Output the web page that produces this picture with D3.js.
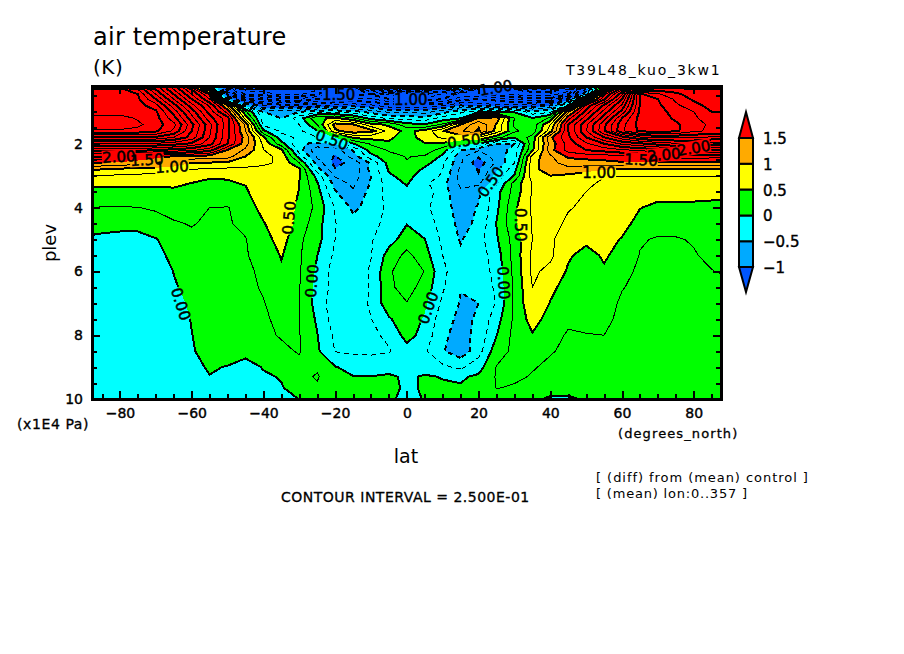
<!DOCTYPE html>
<html>
<head>
<meta charset="utf-8">
<script src="https://cdn.jsdelivr.net/npm/d3@7"></script>
<style>
  html, body { margin: 0; background: #fff; }
  svg { display: block; }
  text { font-family: "DejaVu Sans", sans-serif; fill: #000; }
  .axis path { display: none; }
  .axis line { stroke: #000; stroke-width: 2; shape-rendering: crispEdges; }
  .axis text { font-size: 14px; stroke: #000; stroke-width: .4; }
</style>
</head>
<body>
<script>
'use strict';

// grid: latitude columns, pressure rows (x1E4 Pa)
const lat = [-87.8, -85, -80, -75, -70, -65, -60, -55, -50, -45, -40, -35, -30, -25, -20, -15, -10, -5, 0,
  5, 10, 15, 20, 25, 30, 35, 40, 45, 50, 55, 60, 65, 70, 75, 80, 85, 87.6];
const plev = [0.19, 0.3, 0.45, 0.6, 0.8, 1, 1.2, 1.4, 1.6, 1.8, 2, 2.2, 2.4, 2.6, 2.8, 3, 3.25, 3.5,
  4, 4.5, 5, 5.5, 6, 6.5, 7, 7.5, 8, 8.5, 9, 9.3, 9.65, 10];

// air temperature difference (K), one row per plev
const airTemp = [
  [3.4,3.4,3.4,3.5,3.4, 2.6,1.6,0,-1,-1.5, -1.2,-1,-1,-.8,-.7, -.5,.3,.8,.6,.8, .3,-.3,-.6,-.9,-1, -1,-1,-1,-.5,.6, 1.5,3,3,3,3, 3,3],
  [4.7,4.7,4.6,4.25,3.5, 2.75,2,.8,-2,-2.8, -2.9,-3,-3,-2.8,-2.4, -2.2,-1.5,-1,-1.2,-1.4, -1.8,-.9,-1.9,-2.2,-2.5, -2.6,-2.6,-2.4,-1.2,1, 2.2,3.8,3.9,3.9,3.85, 3.8,3.8],
  [4.7,4.7,4.6,4.5,3.75, 3,2.25,1.5,-1.5,-2.6, -2.6,-2.8,-2.8,-2.5,-2.2, -2.1,-2,-2.3,-2.5,-2.6, -2.2,-1.9,-1.9,-2.1,-2.3, -2.4,-2.4,-2,-.7,1.7, 2.7,4.55,4.3,4.05,3.9, 3.8,3.8],
  [4.65,4.65,4.6,4.55,4, 3.25,2.5,1.75,-.6,-1.9, -2,-2.2,-2.2,-2,-1.8, -1.7,-1.7,-2,-2.2,-2.2, -2,-1.6,-1.5,-1.6,-1.8, -1.9,-1.9,-1.1,.8,1.95, 3,4.52,4.5,4.2,3.95, 3.8,3.8],
  [4.6,4.6,4.6,4.6,4.35, 3.6,2.85,2.2,1.2,-.6, -1.3,-1.4,-1.4,-1.3,-1.2, -1.1,-1.2,-1.4,-1.4,-1.4, -1.3,-1,-1.1,-1.2,-1.2, -1.2,-1,-.1,1.8,2.55, 3.3,4.52,4.55,4.3,4.1, 3.9,3.9],
  [4.65,4.65,4.65,4.65,4.55, 3.9,3.15,2.4,1.65,.3, -.5,-.55,-.5,-.3,-.3, -.4,-.6,-.8,-.8,-.85, -.6,-.3,-.05,.01,-.02, -.4,-.3,1.2,2.1,2.85, 3.6,4.55,4.6,4.4,4.25, 4,4],
  [4.85,4.85,4.85,4.72,4.6, 4.1,3.35,2.6,2.1,.65, -.4,-.5,-.12,.45,.55, .3,-.1,-.3,-.35,-.4, -.15,-.02,1.05,1.15,.25, .02,.3,1.65,2.4,3.15, 4,4.6,4.65,4.45,4.3, 4.1,4.1],
  [4.85,4.85,4.85,4.8,4.62, 4.33,3.58,2.83,2.08,1.2, -.3,-.3,-.25,.25,1.1, 1.02,.6,.45,.1,.02, .3,1,1.45,.98,.2, .1,.75,2,2.7,3.43, 4.17,4.6,4.65,4.55,4.35, 4.2,4.2],
  [4.72,4.72,4.72,4.68,4.55, 4.2,3.5,2.8,2.05,1.25, .05,-.3,-.3,-.02,.95, 1.15,1.1,.65,.42,.6, .98,1.2,1.55,.9,.3, .1,.9,2,2.73,3.47, 4.2,4.55,4.6,4.55,4.3, 4.2,4.2],
  [3.95,3.95,3.95,3.95,3.95, 3.75,3.4,2.75,2.05,1.4, .55,-.15,-.3,-.25,.02, .55,.6,.55,.38,.62, .8,.9,.75,.35,.02, .35,1.45,1.95,2.5,3, 3.4,3.7,3.8,3.8,3.8, 3.7,3.7],
  [3.2,3.2,3.2,3.2,3.2, 3.1,2.95,2.6,2,1.35, .7,.1,-.47,-.55,-.48, -.02,.28,.46,.46,.48, .45,.1,-.02,-.52,-.5, .4,1.35,1.85,2.2,2.5, 2.8,2.95,3.1,3.2,3.2, 3.1,3.1],
  [2.6,2.6,2.6,2.6,2.5, 2.4,2.3,2.1,1.48,1.2, .76,.55,-.38,-.95,-.9, -.48,.12,.27,.28,.4, .12,-.48,-.72,-.72,-.35, .45,1.4,1.85,2,2.1, 2.2,2.3,2.4,2.6,2.6, 2.5,2.5],
  [2,2,1.9,1.75,1.58, 1.48,1.42,1.38,1.35,1, .8,.7,-.1,-.8,-1.03, -.65,-.1,.18,.26,.22, -.05,-.7,-.98,-.62,-.38, .85,1.2,1.55,1.6,1.62, 1.7,1.75,1.8,1.9,1.85, 1.85,1.85],
  [1.5,1.48,1.45,1.35,1.3, 1.2,1,.98,.95,.9, .78,.72,.25,-.6,-1.08, -.92,-.45,.1,.24,.1, -.2,-.72,-1.15,-.7,-.25, .9,1.18,1.35,1.38,1.42, 1.46,1.48,1.48,1.45,1.45, 1.42,1.42],
  [1.05,1,.95,.92,.9, .85,.75,.72,.7,.68, .71,.72,.55,-.4,-.98, -.92,-.42,.03,.2,-.05, -.25,-.8,-1.02,-.55,-.1, .92,1.15,1.18,1.1,1.02, .97,.95,.95,.95,.97, .98,.98],
  [.76,.74,.72,.7,.66, .62,.6,.52,.52,.6, .7,.73,.52,-.1,-.78, -.9,-.5,-.03,.08,-.12, -.28,-.85,-.98,-.4,.02, .9,1,.95,.88,.76, .76,.76,.76,.76,.76, .76,.76],
  [.54,.54,.54,.55,.55, .55,.49,.47,.48,.51, .7,.72,.5,.03,-.6, -.8,-.48,-.12,.02,-.2, -.42,-.8,-.8,-.28,.35, .76,.9,.85,.78,.72, .67,.65,.64,.64,.64, .64,.64],
  [.43,.43,.43,.43,.43, .45,.46,.47,.47,.47, .65,.7,.49,.1,-.48, -.72,-.42,-.15,-.04,-.12, -.38,-.72,-.55,-.1,.35, .78,.88,.82,.75,.68, .6,.57,.55,.55,.55, .55,.55],
  [.25,.24,.24,.245,.29, .36,.4,.25,.24,.35, .6,.65,.45,.18,-.27, -.55,-.42,-.18,-.03,-.2, -.38,-.62,-.48,-.06,.45, .78,.88,.77,.7,.65, .6,.505,.47,.47,.47, .46,.46],
  [.05,.08,.1,.1,.12, .22,.27,.2,.23,.3, .48,.7,.4,.1,-.24, -.42,-.3,-.2,-.01,-.14, -.33,-.58,-.45,.01,.45, .77,.85,.7,.62,.6, .55,.45,.33,.3,.31, .32,.32],
  [-.02,-.05,-.1,-.1,-.01, .08,.18,.22,.24,.24, .4,.6,.3,.08,-.25, -.38,-.27,-.1,.12,.005, -.3,-.52,-.35,-.03,.35, .75,.78,.65,.55,.55, .49,.27,.23,.24,.26, .33,.33],
  [-.15,-.15,-.18,-.18,-.06, .05,.14,.2,.23,.24, .3,.52,.28,.005,-.3, -.38,-.26,.1,.32,.1, -.25,-.45,-.38,-.12,.35, .8,.8,.53,.42,.53, .42,.24,.2,.2,.24, .28,.28],
  [-.18,-.18,-.2,-.2,-.12, .005,.08,.17,.2,.2, .3,.45,.28,-.05,-.38, -.4,-.22,.2,.45,.24, -.2,-.4,-.42,-.15,.32, .8,.68,.47,.46,.47, .3,.22,.2,.2,.22, .245,.26],
  [-.2,-.2,-.2,-.2,-.15, -.02,.06,.15,.22,.2, .27,.4,.26,-.08,-.35, -.4,-.23,.2,.35,.15, -.22,-.49,-.45,-.2,.3, .75,.55,.42,.4,.35, .26,.2,.19,.19,.19, .19,.19],
  [-.2,-.2,-.2,-.2,-.18, -.08,.04,.12,.2,.22, .24,.34,.25,-.1,-.4, -.45,-.2,.15,.24,.05, -.3,-.52,-.5,-.23,.3, .7,.49,.42,.4,.33, .22,.2,.19,.19,.19, .19,.19],
  [-.2,-.2,-.2,-.2,-.18, -.1,.01,.1,.16,.2, .22,.3,.26,-.04,-.38, -.38,-.26,-.03,.15,-.03, -.4,-.56,-.47,-.1,.3, .6,.4,.3,.32,.3, .2,.18,.17,.17,.17, .17,.17],
  [-.18,-.18,-.18,-.18,-.15, -.07,-.005,.1,.15,.18, .2,.27,.26,.01,-.3, -.35,-.3,-.2,.1,-.1, -.45,-.6,-.42,-.01,.33, .48,.35,.22,.24,.25, .2,.18,.16,.16,.16, .16,.16],
  [-.18,-.18,-.18,-.18,-.15, -.08,-.02,.08,.1,.05, .12,.2,.27,.04,-.26, -.3,-.3,-.27,-.1,-.22, -.48,-.65,-.35,.15,.3, .35,.27,.2,.2,.2, .17,.15,.15,.15,.15, .15,.15],
  [-.15,-.15,-.15,-.15,-.15, -.13,-.05,.02,-.01,-.06, .01,.1,.18,.22,.01, -.06,-.1,-.08,-.1,-.08, -.2,-.3,-.1,.26,.33, .27,.2,.16,.15,.15, .15,.15,.15,.15,.15, .15,.15],
  [-.15,-.15,-.15,-.15,-.15, -.13,-.06,-.005,-.04,-.05, -.02,.01,.19,.27,.1, .005,.005,.03,-.03,.02, -.01,-.03,.04,.27,.3, .23,.17,.14,.12,.12, .12,.12,.12,.12,.12, .12,.12],
  [-.15,-.15,-.15,-.15,-.15, -.15,-.13,-.11,-.1,-.09, -.08,-.01,.06,.22,.12, .1,.1,.05,-.03,.02, .03,.02,.08,.26,.22, .15,.12,.1,.1,.1, .1,.1,.1,.1,.1, .1,.1],
  [-.18,-.18,-.2,-.2,-.2, -.2,-.2,-.18,-.16,-.14, -.1,-.05,.003,.05,.1, .1,.08,.03,-.05,.01, .06,.1,.1,.1,.1, .05,-.04,-.04,.03,.06, .08,.08,.08,.08,.08, .08,.08]
];

const fillLevels = [-1, -0.5, 0, 0.5, 1, 1.5];
const fillColours = ['#0055ff', '#00aaff', '#00ffff', '#00ff00', '#ffff00', '#ffaa00', '#ff0000'];
const keyLabels = ['1.5', '1', '0.5', '0', '\u22120.5', '\u22121'];
const latTicks = [-80, -60, -40, -20, 0, 20, 40, 60, 80];
const plevTicks = [2, 4, 6, 8, 10];

// contour labels as they sit in the picture: text, lat, plev, angle
const lineLabels = [
  ['0.00', -63, 7.02, 72], ['0.00', -26.5, 6.3, -85], ['0.50', -32.9, 4.32, -85],
  ['0.00', 5.9, 7.14, -70], ['0.00', 27, 6.36, 87], ['0.50', 31.8, 4.54, 90],
  ['0.50', 23.4, 3.19, -55], ['1.00', -65.5, 2.72, -3], ['1.50', -72.5, 2.5, -3],
  ['2.00', -80.3, 2.41, -3], ['1.00', 53.6, 2.91, 0], ['1.50', 65.3, 2.5, 3],
  ['2.00', 71.7, 2.34, -5], ['2.00', 80, 2.13, -10], ['0.50', -20.9, 1.87, 20],
  ['0.50', 15.9, 1.91, -8], ['1.50', -19, 0.46, 0], ['1.00', 1.1, 0.62, 0], ['1.00', 24.8, 0.24, -10]
];

const svg = d3.select('body').append('svg').attr('width', 904).attr('height', 654);

const x = d3.scaleLinear().domain([-87.8, 87.6]).range([92, 721]);
const y = d3.scaleLinear().domain([10, 0.19]).range([399, 86]);

// d3.contours puts value i at i + 0.5, so map cells back onto the uneven grid
const latOfCell = d3.scaleLinear().domain(lat.map((d, i) => i + 0.5)).range(lat).clamp(true);
const plevOfCell = d3.scaleLinear().domain(plev.map((d, i) => i + 0.5)).range(plev).clamp(true);
const path = d3.geoPath(d3.geoTransform({
  point (px, py) {
    this.stream.point(x(latOfCell(px)), y(plevOfCell(py)));
  }
}));

const contours = d3.contours().size([lat.length, plev.length]);
const values = airTemp.flat();

// filled bands, low to high
const fills = svg.append('g').style('shape-rendering', 'crispEdges');
fills.append('rect')
  .attr('x', x.range()[0]).attr('y', y.range()[1])
  .attr('width', x.range()[1] - x.range()[0]).attr('height', y.range()[0] - y.range()[1])
  .attr('fill', fillColours[0]);
fillLevels.forEach((level, i) => {
  fills.append('path')
    .attr('d', path(contours.contour(values, level)))
    .attr('fill', fillColours[i + 1]);
});

// gaps in the lines under the labels
const mask = svg.append('mask').attr('id', 'labelGaps').attr('maskUnits', 'userSpaceOnUse')
  .attr('x', 0).attr('y', 0).attr('width', 904).attr('height', 654);
mask.append('rect').attr('width', 904).attr('height', 654).attr('fill', '#fff');
lineLabels.forEach(([text, la, p, angle]) => {
  mask.append('rect')
    .attr('x', -17).attr('y', -7).attr('width', 34).attr('height', 14)
    .attr('transform', `translate(${x(la)},${y(p)}) rotate(${angle})`)
    .attr('fill', '#000');
});

// contour lines every 0.25, every second one heavy, negatives dashed
const lines = svg.append('g').attr('mask', 'url(#labelGaps)').style('shape-rendering', 'crispEdges');
d3.range(-3.25, 5.5, 0.25).forEach(level => {
  lines.append('path')
    .attr('d', path(contours.contour(values, level)))
    .attr('fill', 'none')
    .attr('stroke', '#000')
    .attr('stroke-width', level % 0.5 === 0 ? 2 : 1)
    .attr('stroke-dasharray', level < 0 ? '5,4' : null);
});

svg.append('g').selectAll('text')
  .data(lineLabels)
  .join('text')
  .attr('transform', d => `translate(${x(d[1])},${y(d[2])}) rotate(${d[3]})`)
  .attr('text-anchor', 'middle')
  .attr('dy', '0.36em')
  .style('font-size', '15px')
  .style('stroke', '#000')
  .style('stroke-width', 0.5)
  .text(d => d[0]);

// axes: ticks point inward on all four sides
const xMinor = d3.range(-85, 86, 5);
const yMinor = d3.range(0.5, 10, 0.5);
svg.append('g').attr('class', 'axis').attr('transform', `translate(0,${y.range()[0]})`)
  .call(d3.axisBottom(x).tickValues(latTicks).tickSizeInner(-8).tickSizeOuter(0).tickPadding(9).tickFormat(d => d < 0 ? '\u2212' + -d : d));
svg.append('g').attr('class', 'axis').attr('transform', `translate(0,${y.range()[0]})`)
  .call(d3.axisBottom(x).tickValues(xMinor).tickSizeInner(-5).tickSizeOuter(0).tickFormat(''));
svg.append('g').attr('class', 'axis').attr('transform', `translate(0,${y.range()[1]})`)
  .call(d3.axisTop(x).tickValues(latTicks).tickSizeInner(-8).tickSizeOuter(0).tickFormat(''));
svg.append('g').attr('class', 'axis').attr('transform', `translate(${x.range()[0]},0)`)
  .call(d3.axisLeft(y).tickValues(plevTicks).tickSizeInner(-8).tickSizeOuter(0).tickPadding(9));
svg.append('g').attr('class', 'axis').attr('transform', `translate(${x.range()[0]},0)`)
  .call(d3.axisLeft(y).tickValues(yMinor).tickSizeInner(-5).tickSizeOuter(0).tickFormat(''));
svg.append('g').attr('class', 'axis').attr('transform', `translate(${x.range()[1]},0)`)
  .call(d3.axisRight(y).tickValues(plevTicks).tickSizeInner(-8).tickSizeOuter(0).tickFormat(''));
svg.append('g').attr('class', 'axis').attr('transform', `translate(${x.range()[1]},0)`)
  .call(d3.axisRight(y).tickValues(yMinor).tickSizeInner(-5).tickSizeOuter(0).tickFormat(''));

svg.append('rect')
  .attr('x', x.range()[0]).attr('y', y.range()[1])
  .attr('width', x.range()[1] - x.range()[0]).attr('height', y.range()[0] - y.range()[1])
  .attr('fill', 'none').attr('stroke', '#000').attr('stroke-width', 3)
  .style('shape-rendering', 'crispEdges');

// colour key
const keyY = d3.scaleLinear().domain([-1, 1.5]).range([267, 138]);
const keyX = [739, 746, 753];
const key = svg.append('g').attr('stroke', '#000').attr('stroke-width', 2);
fillColours.forEach((colour, i) => {
  let points;
  if (i === 0) {
    points = [[keyX[0], keyY(-1)], [keyX[2], keyY(-1)], [keyX[1], 292]];
  } else if (i === fillColours.length - 1) {
    points = [[keyX[0], keyY(1.5)], [keyX[2], keyY(1.5)], [keyX[1], 112]];
  } else {
    const lo = keyY(fillLevels[i - 1]);
    const hi = keyY(fillLevels[i]);
    points = [[keyX[0], lo], [keyX[2], lo], [keyX[2], hi], [keyX[0], hi]];
  }
  key.append('polygon').attr('points', points.join(' ')).attr('fill', colour);
});
svg.append('g').selectAll('text')
  .data(keyLabels)
  .join('text')
  .attr('x', 763)
  .attr('y', (d, i) => keyY(1.5 - i * 0.5) + 6)
  .style('font-size', '15px')
  .style('stroke', '#000')
  .style('stroke-width', 0.4)
  .text(d => d);

// titles and notes: text, x, baseline, size, spacing, outline
const notes = [
  ['air temperature', 93, 45, 24, 0.25, 0],
  ['(K)', 93, 74, 20, 0.5, 0],
  ['T39L48_kuo_3kw1', 566, 75, 14, 1.8, 0],
  ['(x1E4 Pa)', 17, 429, 14, 0.6, 0.3],
  ['(degrees_north)', 618, 438, 13, 1.1, 0.3],
  ['CONTOUR INTERVAL = 2.500E-01', 281, 502, 14, 0.5, 0.3],
  ['[ (diff) from (mean) control ]', 596, 482, 13, 0.95, 0],
  ['[ (mean) lon:0..357 ]', 596, 498, 13, 0.8, 0]
];
notes.forEach(([text, nx, ny, size, spacing, outline]) => {
  svg.append('text').attr('x', nx).attr('y', ny)
    .style('font-size', size + 'px').style('letter-spacing', spacing + 'px')
    .style('stroke', '#000').style('stroke-width', outline)
    .text(text);
});
svg.append('text').attr('x', 406).attr('y', 463).attr('text-anchor', 'middle')
  .style('font-size', '19px').text('lat');
svg.append('text').attr('transform', 'translate(56,243) rotate(-90)').attr('text-anchor', 'middle')
  .style('font-size', '18px').text('plev');
</script>
</body>
</html>
